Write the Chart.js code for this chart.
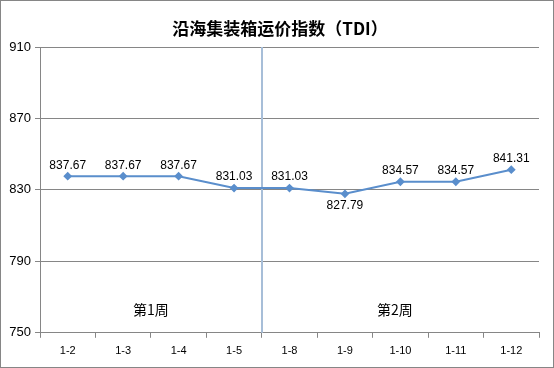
<!DOCTYPE html>
<html><head><meta charset="utf-8">
<script src="https://cdn.jsdelivr.net/npm/chart.js@4"></script>
<style>html,body{margin:0;padding:0;background:#fff}#wrap{width:554px;height:368px;position:relative}</style>
</head><body><div id="wrap"><canvas id="c" width="554" height="368"></canvas></div>
<script>
const categories = ['1-2','1-3','1-4','1-5','1-8','1-9','1-10','1-11','1-12'];
const tdiValues = [837.67, 837.67, 837.67, 831.03, 831.03, 827.79, 834.57, 834.57, 841.31];
const yTicks = [750, 790, 830, 870, 910];
const weekLabels = ['第1周', '第2周'];
const weekCenters = [1.5, 5.9];
const weekLabelValue = 763;
const weekSplitAfter = 3;
const labelBelow = [false, false, false, false, false, true, false, false, false];
const titleText = '沿海集装箱运价指数（TDI）';

const GRID = '#868686';
const LINE = '#5A8ECC';

const borderPlugin = {
  id: 'outerBorder',
  afterDraw(chart) {
    const ctx = chart.ctx;
    ctx.save();
    ctx.strokeStyle = '#868686';
    ctx.lineWidth = 1;
    ctx.strokeRect(0.5, 0.5, chart.width - 1, chart.height - 1);
    ctx.fillStyle = '#000';
    ctx.font = 'bold 17px "Noto Sans CJK SC"';
    ctx.textAlign = 'center';
    ctx.textBaseline = 'middle';
    ctx.fillText(titleText, 280, 29);
    ctx.restore();
  }
};

const dividerPlugin = {
  id: 'weekDivider',
  beforeDatasetsDraw(chart) {
    const x = chart.scales.x;
    const ca = chart.chartArea;
    const px = Math.round((x.getPixelForValue(weekSplitAfter) + x.getPixelForValue(weekSplitAfter + 1)) / 2);
    const ctx = chart.ctx;
    ctx.save();
    ctx.strokeStyle = '#A7BED8';
    ctx.lineWidth = 2;
    ctx.beginPath();
    ctx.moveTo(px, ca.top);
    ctx.lineTo(px, ca.bottom);
    ctx.stroke();
    ctx.fillStyle = '#000';
    ctx.font = '14px "Noto Sans CJK SC"';
    ctx.textAlign = 'center';
    ctx.textBaseline = 'middle';
    const y = chart.scales.y.getPixelForValue(weekLabelValue);
    weekLabels.forEach((t, i) => {
      ctx.fillText(t, x.getPixelForValue(weekCenters[i]), y);
    });
    ctx.restore();
  }
};

const valueLabelPlugin = {
  id: 'valueLabels',
  afterDatasetsDraw(chart) {
    const meta = chart.getDatasetMeta(0);
    const ctx = chart.ctx;
    ctx.save();
    ctx.fillStyle = '#000';
    ctx.font = '12px "Liberation Sans"';
    ctx.textAlign = 'center';
    ctx.textBaseline = 'middle';
    meta.data.forEach((pt, i) => {
      const v = tdiValues[i].toFixed(2);
      const dy = labelBelow[i] ? 12 : -11;
      ctx.fillText(v, pt.x, pt.y + dy);
    });
    ctx.restore();
  }
};

new Chart(document.getElementById('c'), {
  type: 'line',
  data: {
    labels: categories,
    datasets: [{
      data: tdiValues,
      borderColor: LINE,
      backgroundColor: LINE,
      borderWidth: 2,
      pointStyle: 'rectRot',
      pointRadius: 3,
      pointBackgroundColor: LINE,
      pointBorderColor: LINE,
      tension: 0,
      fill: false
    }]
  },
  options: {
    responsive: false,
    animation: false,
    devicePixelRatio: 1,
    layout: { padding: { left: 0, right: 15, top: 47, bottom: 3 } },
    plugins: {
      legend: { display: false },
      tooltip: { enabled: false },
      title: { display: false }
    },
    scales: {
      x: {
        offset: true,
        grid: { offset: true, drawOnChartArea: false, tickLength: 5, color: GRID },
        border: { color: GRID },
        ticks: { color: '#000', font: { family: '"Liberation Sans"', size: 11 }, padding: 7, maxRotation: 0, autoSkip: false }
      },
      y: {
        min: 750, max: 910,
        afterBuildTicks(scale) { scale.ticks = yTicks.map(v => ({ value: v })); },
        afterFit(scale) { scale.width = 40; },
        grid: { color: GRID, tickLength: 5 },
        border: { color: GRID },
        ticks: { color: '#000', font: { family: '"Liberation Sans"', size: 13 }, padding: 4 }
      }
    }
  },
  plugins: [borderPlugin, dividerPlugin, valueLabelPlugin]
});
</script>
</body></html>
